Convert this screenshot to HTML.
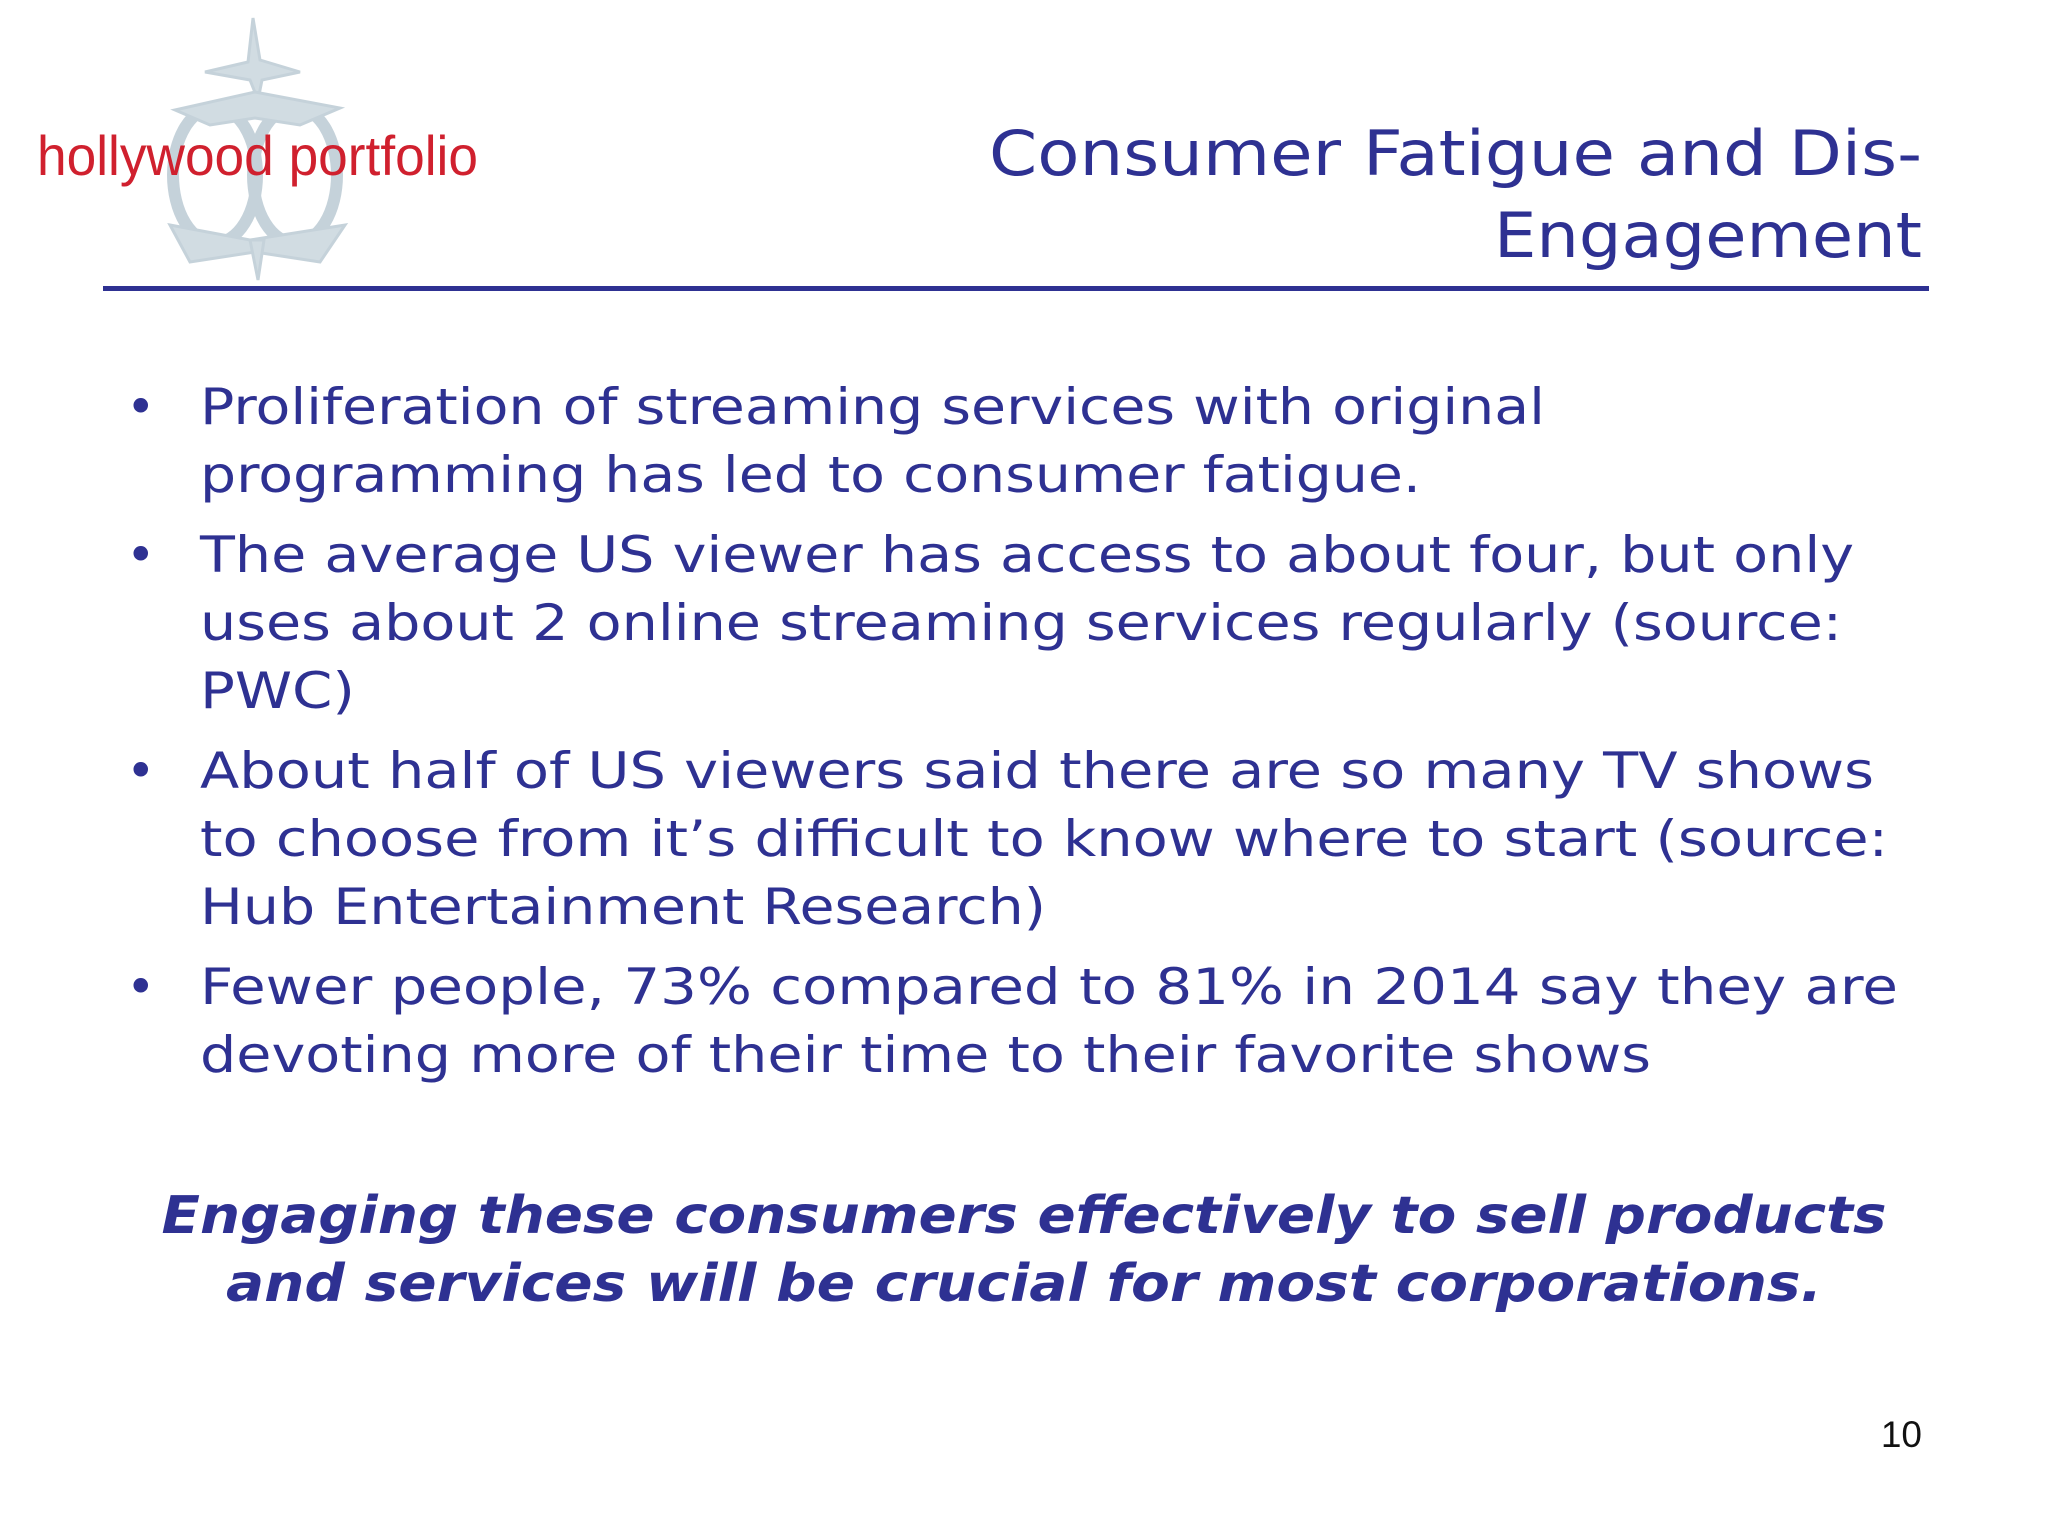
<!DOCTYPE html>
<html><head><meta charset="utf-8"><style>
html,body{margin:0;padding:0;background:#fff;}
svg{display:block;}
</style></head><body>
<svg width="2048" height="1536" viewBox="0 0 2048 1536" xmlns="http://www.w3.org/2000/svg">
<g>
  <g fill="#c9d6de" stroke="#bccbd4" stroke-width="3" opacity="0.85">
    <polygon points="253,18 260,60 300,72 262,80 258,100 250,80 205,72 248,62"/>
    <ellipse cx="215" cy="175" rx="42" ry="68" fill="none" stroke-width="12"/>
    <ellipse cx="295" cy="175" rx="42" ry="68" fill="none" stroke-width="12"/>
    <polygon points="175,110 255,92 340,108 300,125 255,118 210,125"/>
    <polygon points="170,225 250,240 345,225 320,262 255,252 190,262"/>
    <polygon points="250,240 258,280 264,240"/>
  </g>
  <text x="37" y="175" font-family="Liberation Sans, sans-serif" font-size="56" fill="#d0202e" textLength="441" lengthAdjust="spacingAndGlyphs">hollywood portfolio</text>
</g>
<g font-family="DejaVu Sans, sans-serif" font-size="62" fill="#2e3192" text-anchor="end">
  <text x="1922" y="175" textLength="933" lengthAdjust="spacingAndGlyphs">Consumer Fatigue and Dis-</text>
  <text x="1922" y="257" textLength="428" lengthAdjust="spacingAndGlyphs">Engagement</text>
</g>
<rect x="103" y="286" width="1826" height="5" fill="#2e3192"/>
<g font-family="DejaVu Sans, sans-serif" font-size="50" fill="#2e3192">
  <g>
    <text x="126" y="424">•</text>
    <text x="200" y="424" textLength="1345" lengthAdjust="spacingAndGlyphs">Proliferation of streaming services with original</text>
    <text x="200" y="492" textLength="1221" lengthAdjust="spacingAndGlyphs">programming has led to consumer fatigue.</text>
  </g>
  <g>
    <text x="126" y="572">•</text>
    <text x="200" y="572" textLength="1654" lengthAdjust="spacingAndGlyphs">The average US viewer has access to about four, but only</text>
    <text x="200" y="640" textLength="1642" lengthAdjust="spacingAndGlyphs">uses about 2 online streaming services regularly (source:</text>
    <text x="200" y="708" textLength="155" lengthAdjust="spacingAndGlyphs">PWC)</text>
  </g>
  <g>
    <text x="126" y="788">•</text>
    <text x="200" y="788" textLength="1674" lengthAdjust="spacingAndGlyphs">About half of US viewers said there are so many TV shows</text>
    <text x="200" y="856" textLength="1688" lengthAdjust="spacingAndGlyphs">to choose from it’s difficult to know where to start (source:</text>
    <text x="200" y="924" textLength="846" lengthAdjust="spacingAndGlyphs">Hub Entertainment Research)</text>
  </g>
  <g>
    <text x="126" y="1004">•</text>
    <text x="200" y="1004" textLength="1698" lengthAdjust="spacingAndGlyphs">Fewer people, 73% compared to 81% in 2014 say they are</text>
    <text x="200" y="1072" textLength="1451" lengthAdjust="spacingAndGlyphs">devoting more of their time to their favorite shows</text>
  </g>
</g>
<g font-family="DejaVu Sans, sans-serif" font-size="52" font-weight="bold" font-style="italic" fill="#2e3192" text-anchor="middle">
  <text x="1024" y="1233" textLength="1725" lengthAdjust="spacingAndGlyphs">Engaging these consumers effectively to sell products</text>
  <text x="1024" y="1301" textLength="1596" lengthAdjust="spacingAndGlyphs">and services will be crucial for most corporations.</text>
</g>
<text x="1922" y="1447" text-anchor="end" font-family="Liberation Sans, sans-serif" font-size="37" fill="#111">10</text>
</svg>
</body></html>
